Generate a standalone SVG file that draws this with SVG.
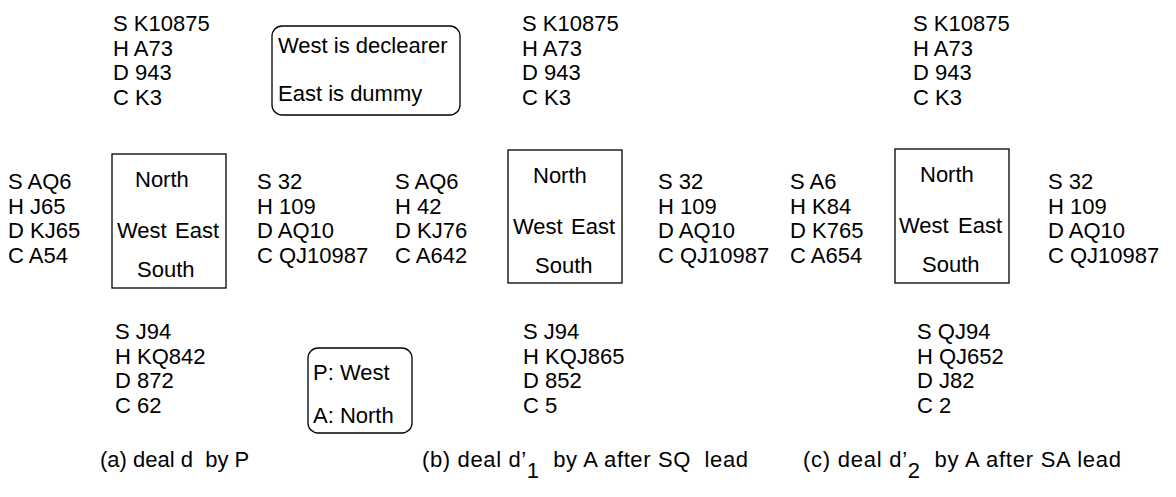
<svg xmlns="http://www.w3.org/2000/svg" width="1176" height="497" viewBox="0 0 1176 497">
<style>
text { font-family: "Liberation Sans", Arial, sans-serif; font-size: 22px; fill: #000; }
.box { fill: none; stroke: #000; stroke-width: 1.3; }
</style>
<rect width="1176" height="497" fill="#fff"/>
<g id="connectors"/>

<!-- (a) -->
<g id="a-north" transform="translate(113,0)">
<text x="0" y="31">S K10875</text><text x="0" y="55.5">H A73</text><text x="0" y="80">D 943</text><text x="0" y="104.5">C K3</text>
</g>
<g id="a-west" transform="translate(8,0)">
<text x="0" y="189">S AQ6</text><text x="0" y="213.5">H J65</text><text x="0" y="238">D KJ65</text><text x="0" y="262.5">C A54</text>
</g>
<g id="a-east" transform="translate(257,0)">
<text x="0" y="189">S 32</text><text x="0" y="213.5">H 109</text><text x="0" y="238">D AQ10</text><text x="0" y="262.5">C QJ10987</text>
</g>
<g id="a-south" transform="translate(115,0)">
<text x="0" y="339">S J94</text><text x="0" y="363.5">H KQ842</text><text x="0" y="388">D 872</text><text x="0" y="412.5">C 62</text>
</g>
<g id="a-table" transform="translate(112,154)">
<rect class="box" x="0" y="0" width="114" height="134"/>
<text x="23" y="33">North</text><text x="5" y="84">West</text><text x="107" y="84" text-anchor="end">East</text><text x="25" y="123">South</text>
</g>
<g id="a-note">
<rect class="box" x="272" y="26" width="188" height="89" rx="10"/>
<text x="278" y="53">West is declearer</text><text x="278" y="101">East is dummy</text>
</g>
<g id="a-roles">
<rect class="box" x="308" y="348" width="104" height="85" rx="10"/>
<text x="313" y="380">P: West</text><text x="313" y="423">A: North</text>
</g>
<g id="a-caption"><text x="100" y="467" xml:space="preserve">(a) deal d  by P</text></g>

<!-- (b) -->
<g id="b-north" transform="translate(522,0)">
<text x="0" y="31">S K10875</text><text x="0" y="55.5">H A73</text><text x="0" y="80">D 943</text><text x="0" y="104.5">C K3</text>
</g>
<g id="b-west" transform="translate(395,0)">
<text x="0" y="189">S AQ6</text><text x="0" y="213.5">H 42</text><text x="0" y="238">D KJ76</text><text x="0" y="262.5">C A642</text>
</g>
<g id="b-east" transform="translate(658,0)">
<text x="0" y="189">S 32</text><text x="0" y="213.5">H 109</text><text x="0" y="238">D AQ10</text><text x="0" y="262.5">C QJ10987</text>
</g>
<g id="b-south" transform="translate(523,0)">
<text x="0" y="339">S J94</text><text x="0" y="363.5">H KQJ865</text><text x="0" y="388">D 852</text><text x="0" y="412.5">C 5</text>
</g>
<g id="b-table" transform="translate(508,150)">
<rect class="box" x="0" y="0" width="114" height="133"/>
<text x="25" y="33">North</text><text x="5" y="84">West</text><text x="107" y="84" text-anchor="end">East</text><text x="27" y="123">South</text>
</g>
<g id="b-caption"><text x="422" y="467" xml:space="preserve" textLength="326" lengthAdjust="spacing">(b) deal d’<tspan dy="11">1</tspan><tspan dy="-11">  by A after SQ  lead</tspan></text></g>

<!-- (c) -->
<g id="c-north" transform="translate(913,0)">
<text x="0" y="31">S K10875</text><text x="0" y="55.5">H A73</text><text x="0" y="80">D 943</text><text x="0" y="104.5">C K3</text>
</g>
<g id="c-west" transform="translate(790,0)">
<text x="0" y="189">S A6</text><text x="0" y="213.5">H K84</text><text x="0" y="238">D K765</text><text x="0" y="262.5">C A654</text>
</g>
<g id="c-east" transform="translate(1048,0)">
<text x="0" y="189">S 32</text><text x="0" y="213.5">H 109</text><text x="0" y="238">D AQ10</text><text x="0" y="262.5">C QJ10987</text>
</g>
<g id="c-south" transform="translate(917,0)">
<text x="0" y="339">S QJ94</text><text x="0" y="363.5">H QJ652</text><text x="0" y="388">D J82</text><text x="0" y="412.5">C 2</text>
</g>
<g id="c-table" transform="translate(895,149)">
<rect class="box" x="0" y="0" width="114" height="134"/>
<text x="25" y="33">North</text><text x="4" y="84">West</text><text x="107" y="84" text-anchor="end">East</text><text x="27" y="123">South</text>
</g>
<g id="c-caption"><text x="803" y="467" xml:space="preserve" textLength="318" lengthAdjust="spacing">(c) deal d’<tspan dy="11">2</tspan><tspan dy="-11">  by A after SA lead</tspan></text></g>
</svg>
